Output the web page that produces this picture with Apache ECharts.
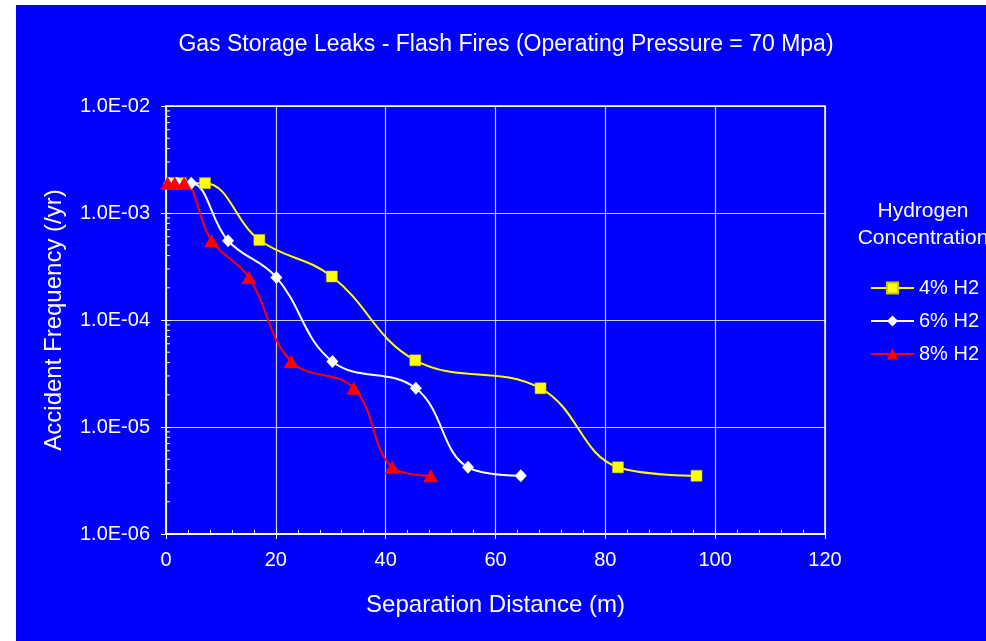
<!DOCTYPE html>
<html>
<head>
<meta charset="utf-8">
<title>Gas Storage Leaks - Flash Fires</title>
<script src="https://cdn.jsdelivr.net/npm/echarts@6/dist/echarts.min.js"></script>
<style>
  html, body { margin: 0; padding: 0; background: #ffffff; }
  #chart { width: 986px; height: 641px; }
</style>
</head>
<body>
<div id="chart"></div>
<script>
// Separation distance (m) and accident frequency (/yr) per hydrogen concentration
const h2_4_dist = [1.0, 2.7, 7.1, 17.0, 30.2, 45.4, 68.2, 82.3, 96.6];
const h2_4_freq = [1.9e-3, 1.9e-3, 1.9e-3, 5.6e-4, 2.55e-4, 4.2e-5, 2.3e-5, 4.2e-6, 3.5e-6];

const h2_6_dist = [0.6, 2.0, 4.6, 11.3, 20.1, 30.3, 45.5, 55.0, 64.6];
const h2_6_freq = [1.9e-3, 1.9e-3, 1.9e-3, 5.5e-4, 2.5e-4, 4.1e-5, 2.3e-5, 4.2e-6, 3.5e-6];

const h2_8_dist = [0.3, 1.6, 3.3, 8.3, 15.1, 22.8, 34.2, 41.2, 48.2];
const h2_8_freq = [1.9e-3, 1.9e-3, 1.9e-3, 5.5e-4, 2.5e-4, 4.1e-5, 2.3e-5, 4.2e-6, 3.5e-6];

const seriesNames = ['4% H2', '6% H2', '8% H2'];

// Log axis decades and the minor multiples drawn between them
const yDecades = [1e-6, 1e-5, 1e-4, 1e-3];
const minorMultiples = [2, 3, 4, 5, 6, 7, 8, 9];

const FONT = '"Liberation Sans", Arial, sans-serif';
const BLUE = '#0000ff';

function pairs(xs, ys) {
  return xs.map((x, i) => [x, ys[i]]);
}

function expLabel(v) {
  const e = Math.round(Math.log10(v));
  const sign = e < 0 ? '-' : '+';
  const abs = Math.abs(e);
  return '1.0E' + sign + (abs < 10 ? '0' + abs : '' + abs);
}

const minorTickValues = [];
yDecades.forEach(d => minorMultiples.forEach(m => minorTickValues.push([0, d * m])));

const chart = echarts.init(document.getElementById('chart'), null, { renderer: 'canvas' });

const lineBase = {
  type: 'line',
  smooth: 0.4,
  xAxisIndex: 0,
  yAxisIndex: 0,
  z: 5
};

chart.setOption({
  backgroundColor: '#ffffff',
  animation: false,
  graphic: [{
    type: 'rect',
    left: 16, top: 5,
    shape: { width: 970, height: 636 },
    style: { fill: BLUE },
    z: -10,
    silent: true
  }],
  title: [{
    text: 'Gas Storage Leaks - Flash Fires (Operating Pressure = 70 Mpa)',
    left: 501, top: 28, textAlign: 'center',
    textStyle: { color: '#ffffff', fontSize: 23, fontWeight: 'normal', fontFamily: FONT }
  }, {
    text: 'Hydrogen\nConcentration',
    left: 918, top: 193, textAlign: 'center',
    textStyle: { color: '#ffffff', fontSize: 21, fontWeight: 'normal', fontFamily: FONT, lineHeight: 27 }
  }],
  legend: {
    orient: 'vertical',
    left: 870, top: 278,
    padding: 0,
    itemWidth: 43, itemHeight: 14,
    itemGap: 13,
    data: seriesNames,
    textStyle: { color: '#ffffff', fontSize: 20, fontFamily: FONT, padding: [0, 0, 0, 0] }
  },
  grid: {
    left: 166, right: 161, top: 106, bottom: 107,
    show: true, borderColor: '#ffffff', borderWidth: 1.5,
    backgroundColor: 'transparent'
  },
  xAxis: [{
    type: 'value', min: 0, max: 120, interval: 20,
    name: 'Separation Distance (m)', nameLocation: 'middle', nameGap: 59,
    nameTextStyle: { color: '#ffffff', fontSize: 24, fontFamily: FONT },
    axisLine: { lineStyle: { color: '#ffffff', width: 1.5 } },
    axisTick: { show: true, inside: false, length: 5, lineStyle: { color: '#ffffff' } },
    axisLabel: { color: '#ffffff', fontSize: 20, fontFamily: FONT, margin: 16 },
    splitLine: { show: true, lineStyle: { color: 'rgba(255,255,255,0.8)', width: 1.2 } }
  }, {
    type: 'value', min: 0, max: 120, interval: 20, position: 'bottom',
    axisLine: { show: false },
    axisTick: { show: true, inside: true, length: 5, lineStyle: { color: '#ffffff' } },
    minorTick: { show: true, splitNumber: 5, length: 4, lineStyle: { color: '#ffffff' } },
    axisLabel: { show: false },
    splitLine: { show: false }
  }],
  yAxis: [{
    type: 'log', logBase: 10, min: 1e-6, max: 1e-2,
    name: 'Accident Frequency (/yr)', nameLocation: 'middle', nameGap: 100, nameRotate: 90,
    nameTextStyle: { color: '#ffffff', fontSize: 24, fontFamily: FONT },
    axisLine: { show: true, lineStyle: { color: '#ffffff', width: 1.5 } },
    axisTick: { show: true, inside: false, length: 5, lineStyle: { color: '#ffffff' } },
    axisLabel: { color: '#ffffff', fontSize: 20, fontFamily: FONT, margin: 16, formatter: expLabel },
    splitLine: { show: true, lineStyle: { color: 'rgba(255,255,255,0.8)', width: 1.2 } }
  }, {
    type: 'log', logBase: 10, min: 1e-6, max: 1e-2, position: 'left',
    axisLine: { show: false },
    axisTick: { show: true, inside: true, length: 5, lineStyle: { color: '#ffffff' } },
    axisLabel: { show: false },
    splitLine: { show: false }
  }],
  series: [{
    // minor tick marks at 2..9 of each decade on the log axis
    type: 'custom',
    xAxisIndex: 0, yAxisIndex: 0,
    silent: true, z: 3,
    data: minorTickValues,
    renderItem: function (params, api) {
      const p = api.coord([0, api.value(1)]);
      return {
        type: 'line',
        shape: { x1: p[0], y1: p[1], x2: p[0] + 4, y2: p[1] },
        style: { stroke: '#ffffff', lineWidth: 1 }
      };
    }
  }, Object.assign({}, lineBase, {
    name: seriesNames[0],
    data: pairs(h2_4_dist, h2_4_freq),
    symbol: 'rect', symbolSize: 11,
    lineStyle: { color: '#ffff00', width: 2 },
    itemStyle: { color: '#ffff00', borderColor: '#c8c800', borderWidth: 0.5 }
  }), Object.assign({}, lineBase, {
    name: seriesNames[1],
    data: pairs(h2_6_dist, h2_6_freq),
    symbol: 'diamond', symbolSize: [12, 13],
    lineStyle: { color: '#ffffff', width: 2 },
    itemStyle: { color: '#ffffff' }
  }), Object.assign({}, lineBase, {
    name: seriesNames[2],
    data: pairs(h2_8_dist, h2_8_freq),
    symbol: 'triangle', symbolSize: [15, 13],
    lineStyle: { color: '#ff0000', width: 2 },
    itemStyle: { color: '#ff0000' }
  })]
});
</script>
</body>
</html>
